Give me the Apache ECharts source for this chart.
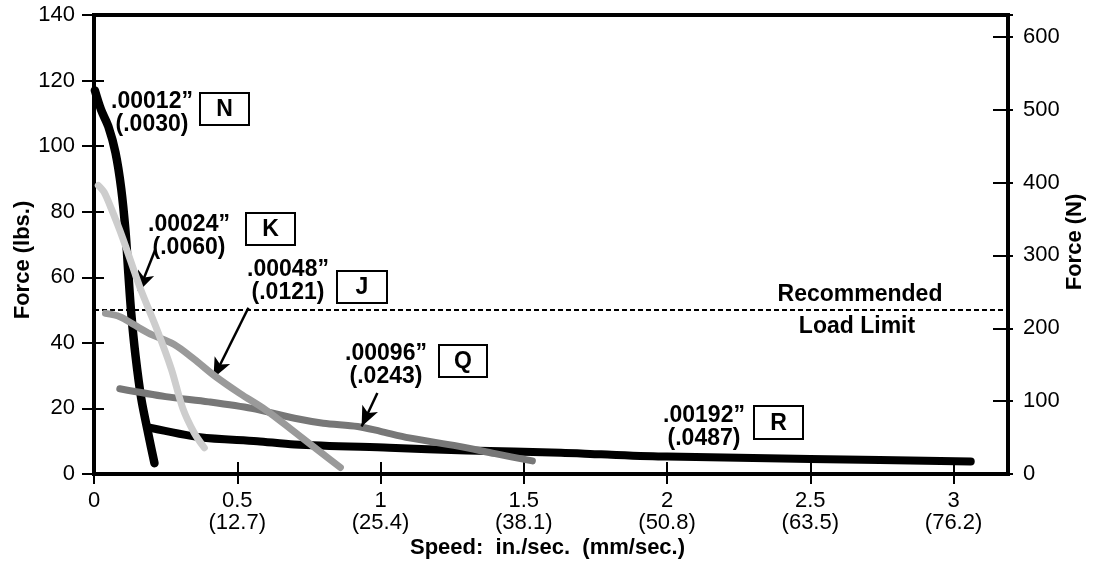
<!DOCTYPE html>
<html>
<head>
<meta charset="utf-8">
<script src="https://cdn.jsdelivr.net/npm/echarts@6/dist/echarts.min.js"></script>
<style>
html,body{margin:0;padding:0;background:#fff;}
#chart{width:1093px;height:569px;}
</style>
</head>
<body>
<div id="chart"></div>
<script>
// ---- data (speed in./sec, force lbs) ----
const xTicks = [0, 0.5, 1, 1.5, 2, 2.5, 3];
const xTickLabels = ['0', '0.5\n(12.7)', '1\n(25.4)', '1.5\n(38.1)', '2\n(50.8)', '2.5\n(63.5)', '3\n(76.2)'];
const nData = [[0.003,117],[0.025,111],[0.05,106],[0.075,98],[0.095,87],[0.11,74],[0.12,61],[0.13,49],[0.145,36],[0.165,23],[0.19,12],[0.211,3.3]];
const rData = [[0.19,14.2],[0.37,11.2],[0.57,10],[0.7,9],[1.03,8],[1.3,7.2],[1.63,6.5],[1.77,6],[2.0,5.3],[2.5,4.6],[3.06,3.8]];
const kData = [[0.015,88],[0.035,86],[0.06,81],[0.1,72],[0.16,57],[0.22,44],[0.27,32],[0.31,20],[0.35,12.5],[0.385,8]];
const jData = [[0.04,49],[0.09,48],[0.14,45.5],[0.19,43],[0.28,39.5],[0.35,35],[0.42,30],[0.51,24.5],[0.6,19.5],[0.69,13.5],[0.8,6],[0.86,2]];
const qData = [[0.09,26],[0.25,23.6],[0.4,22],[0.55,20],[0.7,17],[0.8,15.5],[0.92,14.5],[1.0,13],[1.1,11],[1.27,8.5],[1.4,6.2],[1.53,4]];
const loadLimit = 50;
const arrowK = [[0.214,68.5],[0.156,55.7]];
const arrowJ = [[0.539,50.7],[0.417,29.3]];
const arrowQ = [[0.989,24.7],[0.934,14.5]];
const labelsText = [
  {gap: '.00012\u201d\n(.0030)', code: 'N'},
  {gap: '.00024\u201d\n(.0060)', code: 'K'},
  {gap: '.00048\u201d\n(.0121)', code: 'J'},
  {gap: '.00096\u201d\n(.0243)', code: 'Q'},
  {gap: '.00192\u201d\n(.0487)', code: 'R'}
];
// ---- layout ----
const labelPos = [
  {tx:152, ty:113.5, bx:200, by:93, bw:49, bh:32},
  {tx:189, ty:236, bx:246, by:213, bw:49, bh:32},
  {tx:288, ty:281, bx:337, by:271, bw:50, bh:32},
  {tx:386, ty:365.5, bx:439, by:345, bw:48, bh:32},
  {tx:704, ty:427, bx:754, by:406, bw:49, bh:33}
];
const FONT = '"Liberation Sans", Arial, Helvetica, sans-serif';

const chart = echarts.init(document.getElementById('chart'), null, {renderer:'canvas'});

function lineSeries(data, color, width, z){
  return {
    type:'line', data:data, xAxisIndex:0, yAxisIndex:0,
    showSymbol:false, symbol:'none', smooth:0.3, sampling:null,
    lineStyle:{color:color, width:width, cap:'round', join:'round'},
    z:z, silent:true, animation:false
  };
}
function arrowLine(a){
  return [{coord:a[0]},{coord:a[1]}];
}

const graphics = [];
labelsText.forEach((l,i)=>{
  const p = labelPos[i];
  graphics.push({type:'text', style:{text:l.gap, x:p.tx, y:p.ty, font:'bold 23px '+FONT, fill:'#000', textAlign:'center', textVerticalAlign:'middle', lineHeight:23}, z:100});
  graphics.push({type:'rect', shape:{x:p.bx, y:p.by, width:p.bw, height:p.bh}, style:{fill:'#fff', stroke:'#000', lineWidth:2}, z:100});
  graphics.push({type:'text', style:{text:l.code, x:p.bx+p.bw/2, y:p.by+p.bh/2+1, font:'bold 23px '+FONT, fill:'#000', textAlign:'center', textVerticalAlign:'middle'}, z:101});
});
graphics.push({type:'text', style:{text:'Recommended', x:860, y:295, font:'bold 23px '+FONT, fill:'#000', textAlign:'center', textVerticalAlign:'middle'}, z:100});
graphics.push({type:'text', style:{text:'Load Limit', x:857, y:327, font:'bold 23px '+FONT, fill:'#000', textAlign:'center', textVerticalAlign:'middle'}, z:100});
graphics.push({type:'text', x:23, y:260, rotation:Math.PI/2, style:{text:'Force (lbs.)', x:0, y:0, font:'bold 22px '+FONT, fill:'#000', textAlign:'center', textVerticalAlign:'middle'}, z:100});
graphics.push({type:'text', x:1075, y:242, rotation:Math.PI/2, style:{text:'Force (N)', x:0, y:0, font:'bold 22px '+FONT, fill:'#000', textAlign:'center', textVerticalAlign:'middle'}, z:100});
graphics.push({type:'text', style:{text:'Speed:  in./sec.  (mm/sec.)', x:547.5, y:548, font:'bold 22px '+FONT, fill:'#000', textAlign:'center', textVerticalAlign:'middle'}, z:100});

const xFmt = function(v){
  const i = xTicks.findIndex(t => Math.abs(t - v) < 1e-6);
  return i >= 0 ? xTickLabels[i] : '';
};

const option = {
  backgroundColor:'#fff',
  animation:false,
  grid:{left:94, right:85, top:15, bottom:95, show:true, borderColor:'#000', borderWidth:4, backgroundColor:'transparent'},
  xAxis:[
    {type:'value', min:0, max:3.19, interval:0.5, position:'bottom',
     axisLine:{show:true, onZero:false, lineStyle:{color:'#000', width:4}},
     axisTick:{show:true, inside:false, length:10, lineStyle:{color:'#000', width:2}},
     axisLabel:{show:true, margin:16, color:'#000', fontFamily:FONT, fontSize:22, lineHeight:22, formatter:xFmt, showMaxLabel:false},
     splitLine:{show:false}},
    {type:'value', min:0, max:3.19, interval:0.5, position:'bottom', offset:0,
     axisLine:{show:false, onZero:false},
     axisTick:{show:true, inside:true, length:12, lineStyle:{color:'#000', width:2}},
     axisLabel:{show:false}, splitLine:{show:false}}
  ],
  yAxis:[
    {type:'value', min:0, max:140, interval:20, position:'left',
     axisLine:{show:true, onZero:false, lineStyle:{color:'#000', width:4}},
     axisTick:{show:true, inside:false, length:12, lineStyle:{color:'#000', width:2}},
     axisLabel:{show:true, margin:19, color:'#000', fontFamily:FONT, fontSize:22},
     splitLine:{show:false}},
    {type:'value', min:0, max:630, interval:100, position:'right',
     axisLine:{show:true, onZero:false, lineStyle:{color:'#000', width:4}},
     axisTick:{show:true, inside:true, length:15, lineStyle:{color:'#000', width:2}},
     axisLabel:{show:true, margin:15, color:'#000', fontFamily:FONT, fontSize:22, showMaxLabel:false,
       formatter:function(v){ return (v % 100 === 0) ? String(v) : ''; }},
     splitLine:{show:false}},
    {type:'value', min:0, max:630, interval:100, position:'right', offset:0,
     axisLine:{show:false, onZero:false},
     axisTick:{show:true, inside:false, length:5, lineStyle:{color:'#000', width:2}},
     axisLabel:{show:false}, splitLine:{show:false}},
    {type:'value', min:0, max:140, interval:20, position:'left', offset:0,
     axisLine:{show:false, onZero:false},
     axisTick:{show:true, inside:true, length:10, lineStyle:{color:'#000', width:2}},
     axisLabel:{show:false}, splitLine:{show:false}}
  ],
  series:[
    Object.assign(lineSeries(rData, '#000', 8, 2), {
      markLine:{silent:true, symbol:['none','none'], animation:false,
        lineStyle:{color:'#000', width:2, type:[5,3]}, label:{show:false},
        data:[{yAxis:loadLimit}]}
    }),
    lineSeries(nData, '#000', 8.5, 3),
    lineSeries(qData, '#777777', 7, 4),
    lineSeries(jData, '#9a9a9a', 7, 5),
    Object.assign(lineSeries(kData, '#cdcdcd', 7, 6), {
      markLine:{silent:true, symbol:['none','arrow'], symbolSize:[13,20], animation:false,
        lineStyle:{color:'#000', width:2.5, type:'solid'}, label:{show:false},
        data:[arrowLine(arrowK), arrowLine(arrowJ), arrowLine(arrowQ)]}
    })
  ],
  graphic:graphics
};
chart.setOption(option);
</script>
</body>
</html>
